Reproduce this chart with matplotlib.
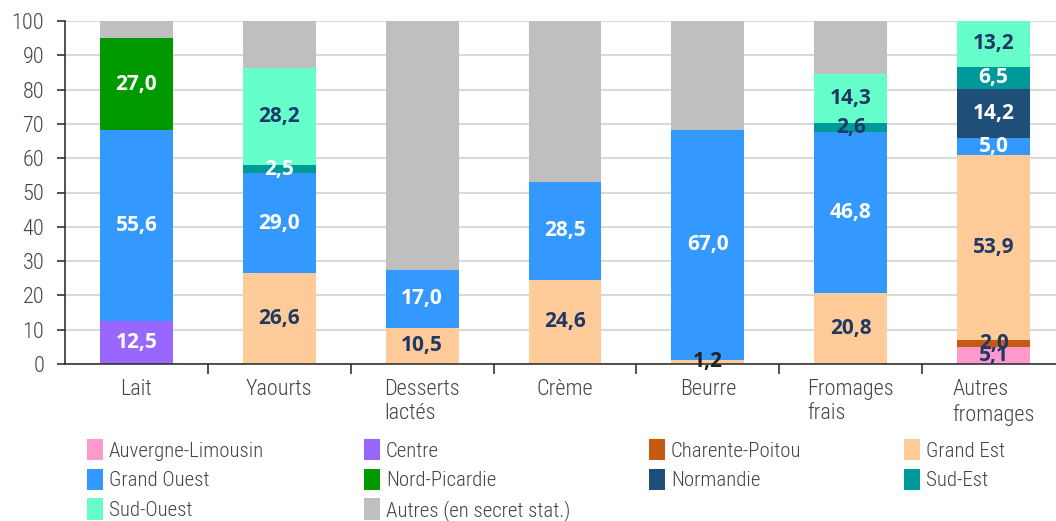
import matplotlib
matplotlib.use("Agg")
import matplotlib.pyplot as plt
from matplotlib.patches import Patch
import numpy as np

categories = ["Lait", "Yaourts", "Desserts\nlactés", "Crème", "Beurre",
              "Fromages\nfrais", "Autres\nfromages"]
regions = ["Auvergne-Limousin", "Centre", "Charente-Poitou", "Grand Est",
           "Grand Ouest", "Nord-Picardie", "Normandie", "Sud-Est",
           "Sud-Ouest", "Autres (en secret stat.)"]

auvergne = [0, 0, 0, 0, 0, 0, 5.1]
centre = [12.5, 0, 0, 0, 0, 0, 0]
charente = [0, 0, 0, 0, 0, 0, 2.0]
grand_est = [0, 26.6, 10.5, 24.6, 1.2, 20.8, 53.9]
grand_ouest = [55.6, 29.0, 17.0, 28.5, 67.0, 46.8, 5.0]
nord_picardie = [27.0, 0, 0, 0, 0, 0, 0]
normandie = [0, 0, 0, 0, 0, 0, 14.2]
sud_est = [0, 2.5, 0, 0, 0, 2.6, 6.5]
sud_ouest = [0, 28.2, 0, 0, 0, 14.3, 13.2]
autres = [4.9, 13.7, 72.5, 46.9, 31.8, 15.5, 0.1]

series = [auvergne, centre, charente, grand_est, grand_ouest,
          nord_picardie, normandie, sud_est, sud_ouest, autres]
colors = ["#ff99cc", "#9966ff", "#c55a11", "#ffcc99", "#3399ff",
          "#009900", "#1f4e79", "#009999", "#66ffcc", "#bfbfbf"]
navy = "#1f3864"
label_colors = [navy, "white", navy, navy, "white", "white", "white",
                "white", navy, None]

thin = ["Roboto Condensed", "Liberation Sans Narrow", "Roboto", "DejaVu Sans"]

fig = plt.figure(figsize=(10.56, 5.21), dpi=100)
ax = fig.add_axes([65 / 1056, 1 - 364 / 521, 1000 / 1056, (364 - 21) / 521])

x = np.arange(len(categories))
bottom = np.zeros(len(categories))
for vals, col, lcol in zip(series, colors, label_colors):
    vals = np.array(vals, dtype=float)
    ax.bar(x, vals, bottom=bottom, width=0.51, color=col, zorder=2)
    if lcol is not None:
        for i, v in enumerate(vals):
            if v <= 0:
                continue
            c = lcol
            # the small Sud-Est share in "Fromages frais" is written in navy
            if col == "#009999" and i == 5:
                c = navy
            if col == "#ffcc99" and i == 4:
                c = "#222222"
            ax.text(x[i], bottom[i] + v / 2, f"{v:.1f}".replace(".", ","),
                    ha="center", va="center", color=c, fontsize=15,
                    fontweight="bold", family=["Open Sans", "DejaVu Sans"],
                    zorder=3)
    bottom += vals

ax.set_xlim(-0.5, len(categories) - 0.5)
ax.set_ylim(0, 100)
ax.set_yticks(range(0, 101, 10))
ax.yaxis.grid(True, color="#d9d9d9", linewidth=1.5, zorder=0)
ax.set_axisbelow(True)
for s in ["top", "right"]:
    ax.spines[s].set_visible(False)
for s in ["left", "bottom"]:
    ax.spines[s].set_color("#333333")
    ax.spines[s].set_linewidth(1.2)

ax.set_xticks(x)
ax.set_xticklabels(categories, multialignment="left")
ax.tick_params(axis="x", length=0, pad=11)
ax.set_xticks(np.arange(0.5, len(categories) - 0.5, 1), minor=True)
ax.tick_params(axis="x", which="minor", length=7, width=1.2, color="#333333")
ax.tick_params(axis="y", length=6, width=1.2, color="#333333", pad=9)
for lab in ax.get_xticklabels() + ax.get_yticklabels():
    lab.set_fontsize(16)
    lab.set_color("#444444")
    lab.set_family(thin)
    lab.set_fontweight("light")

# legend in four columns, filled row by row
cols = [[0, 4, 8], [1, 5, 9], [2, 6], [3, 7]]
col_x = [87, 364, 649, 904]
for idx, cx in zip(cols, col_x):
    handles = [Patch(facecolor=colors[k], edgecolor="none") for k in idx]
    fig.legend(handles, [regions[k] for k in idx], loc="upper left",
               bbox_to_anchor=(cx / 1056, 1 - 439 / 521), frameon=False,
               handlelength=0.75, handleheight=1.2, handletextpad=0.3,
               labelspacing=0.38, borderaxespad=0, borderpad=0,
               prop={"family": thin, "size": 15, "weight": "light"},
               labelcolor="#444444")

fig.savefig("out.png", dpi=100)
